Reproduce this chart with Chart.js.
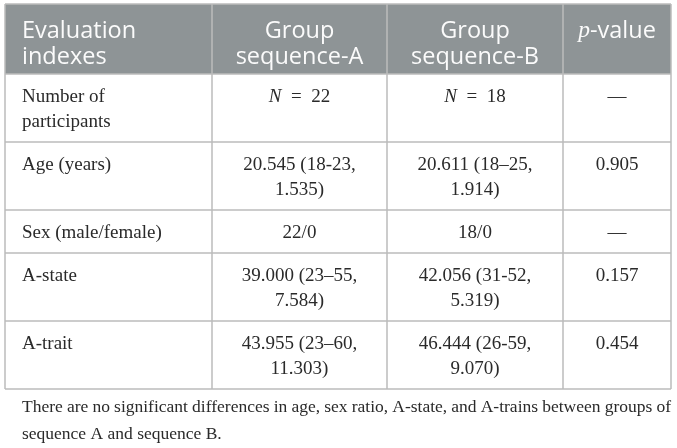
<!DOCTYPE html>
<html lang="en">
<head>
  <meta charset="UTF-8">
  <title>Evaluation indexes</title>
  <script src="https://cdn.jsdelivr.net/npm/chart.js"></script>
  <style>
    body { margin: 0; background: #fff; }
    canvas { display: block; }
  </style>
</head>
<body>
  <canvas id="tbl" width="677" height="448"></canvas>

  <script>
    // table content (italic parts wrapped in *)
    const headers = [['Evaluation', 'indexes'], ['Group', 'sequence-A'], ['Group', 'sequence-B'], ['*p*-value']];
    const rowLabels = [['Number of', 'participants'], ['Age (years)'], ['Sex (male/female)'], ['A-state'], ['A-trait']];
    const groupA = [['*N*\u2002=\u200222'], ['20.545 (18-23,', '1.535)'], ['22/0'], ['39.000 (23–55,', '7.584)'], ['43.955 (23–60,', '11.303)']];
    const groupB = [['*N*\u2002=\u200218'], ['20.611 (18–25,', '1.914)'], ['18/0'], ['42.056 (31-52,', '5.319)'], ['46.444 (26-59,', '9.070)']];
    const pValues = [['—'], ['0.905'], ['—'], ['0.157'], ['0.454']];
    const footnote = ['There are no significant differences in age, sex ratio, A-state, and A-trains between groups of',
                      'sequence A and sequence B.'];

    // layout in page units (mapped through the chart scales)
    const colEdges = [5, 212, 387, 563, 671];
    const rowEdges = [4, 74, 142, 210, 253, 321, 389];
    const serif = '"Liberation Serif", "DejaVu Serif", serif';
    const sans = '"Open Sans", "Noto Sans", sans-serif';

    function drawRich(ctx, text, x, y, align, size, family, italicFamily) {
      const parts = text.split('*');
      let total = 0;
      const widths = parts.map((p, i) => {
        ctx.font = (i % 2 ? 'italic ' : '') + size + 'px ' + (i % 2 ? italicFamily : family);
        const w = ctx.measureText(p).width;
        total += w;
        return w;
      });
      let cx = align === 'center' ? x - total / 2 : x;
      parts.forEach((p, i) => {
        ctx.font = (i % 2 ? 'italic ' : '') + size + 'px ' + (i % 2 ? italicFamily : family);
        ctx.textAlign = 'left';
        ctx.fillText(p, cx, y);
        cx += widths[i];
      });
    }

    const tablePlugin = {
      id: 'tablePlugin',
      afterDraw(chart) {
        const ctx = chart.ctx;
        const xs = chart.scales.x, ys = chart.scales.y;
        const X = v => xs.getPixelForValue(v);
        const Y = v => ys.getPixelForValue(v);
        ctx.save();

        // header band
        ctx.fillStyle = '#8e9496';
        ctx.fillRect(X(colEdges[0]), Y(rowEdges[0]), X(colEdges[4]) - X(colEdges[0]), Y(rowEdges[1]) - Y(rowEdges[0]));

        // grid lines
        ctx.strokeStyle = '#bcbcbc';
        ctx.lineWidth = 1.5;
        ctx.beginPath();
        rowEdges.forEach(r => { ctx.moveTo(X(colEdges[0]), Y(r)); ctx.lineTo(X(colEdges[4]), Y(r)); });
        colEdges.forEach(c => { ctx.moveTo(X(c), Y(rowEdges[0])); ctx.lineTo(X(c), Y(rowEdges[rowEdges.length - 1])); });
        ctx.stroke();

        ctx.textBaseline = 'middle';

        // header text
        ctx.fillStyle = '#fbfbfb';
        headers.forEach((lines, c) => {
          const align = c === 0 ? 'left' : 'center';
          const x = c === 0 ? X(colEdges[0] + 17) : X((colEdges[c] + colEdges[c + 1]) / 2);
          lines.forEach((t, k) => {
            drawRich(ctx, t, x, Y(rowEdges[0] + 27 + k * 26), align, 23.5, sans, serif);
          });
        });

        // body
        ctx.fillStyle = '#2a2a2a';
        const cols = [rowLabels, groupA, groupB, pValues];
        cols.forEach((col, c) => {
          col.forEach((lines, r) => {
            const top = rowEdges[r + 1];
            const align = c === 0 ? 'left' : 'center';
            const x = c === 0 ? X(colEdges[0] + 17) : X((colEdges[c] + colEdges[c + 1]) / 2);
            lines.forEach((t, k) => {
              drawRich(ctx, t, x, Y(top + 23 + k * 25), align, 19, serif, serif);
            });
          });
        });

        // footnote, first line justified
        ctx.font = '17.5px ' + serif;
        ctx.textAlign = 'left';
        const left = X(colEdges[0] + 17), right = X(colEdges[4]);
        const words = footnote[0].split(' ');
        const wsum = words.reduce((s, w) => s + ctx.measureText(w).width, 0);
        const gap = (right - left - wsum) / (words.length - 1);
        let fx = left;
        words.forEach(w => { ctx.fillText(w, fx, Y(407)); fx += ctx.measureText(w).width + gap; });
        ctx.fillText(footnote[1], left, Y(434));

        ctx.restore();
      }
    };

    new Chart(document.getElementById('tbl'), {
      type: 'scatter',
      data: { datasets: [{ data: [] }] },
      options: {
        responsive: false,
        animation: false,
        layout: { padding: 0 },
        plugins: { legend: { display: false }, tooltip: { enabled: false } },
        scales: {
          x: { type: 'linear', min: 0, max: 677, display: false },
          y: { type: 'linear', min: 0, max: 448, reverse: true, display: false }
        }
      },
      plugins: [tablePlugin]
    });
  </script>
</body>
</html>
